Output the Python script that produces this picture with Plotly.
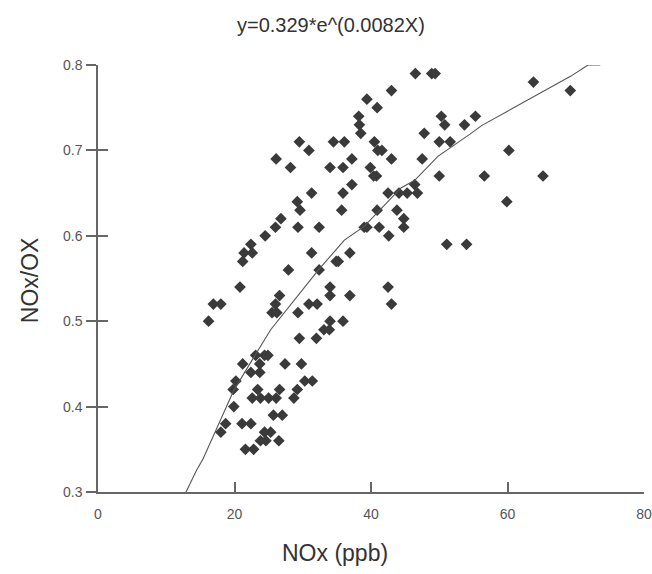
import plotly.graph_objects as go

# scatter observations: NOx (ppb) vs NOx/OX
nox = [63.8, 69.2, 60.2, 56.6, 65.2, 59.9, 46.5, 48.9, 49.4, 50.3,
       55.3, 50.8, 53.7, 47.8, 50.0, 51.6, 47.5, 50.0, 46.4, 45.3,
       46.8, 44.8, 44.8, 51.1, 54.0, 43.0, 39.4, 40.9, 38.2, 38.3,
       38.5, 29.5, 34.5, 36.1, 40.5, 30.9, 41.0, 41.6, 37.2, 43.0,
       28.2, 34.0, 35.9, 39.9, 40.4, 40.8, 37.2, 31.3, 35.9, 42.5,
       44.1, 29.2, 29.6, 35.7, 40.9, 43.8, 26.8, 29.3, 32.4, 39.0,
       39.4, 41.2, 42.6, 31.3, 36.9, 34.9, 35.2, 27.9, 32.4, 34.0,
       34.0, 36.9, 42.5, 43.0, 26.6, 26.0, 25.5, 26.2, 29.3, 30.9,
       32.1, 34.0, 35.9, 33.1, 33.9, 29.5, 32.0, 27.4, 29.8, 30.3,
       31.4, 26.6, 29.2, 26.1, 28.7, 22.4, 21.4, 22.6, 21.2, 20.8,
       16.9, 18.0, 16.2, 23.1, 24.4, 24.9, 21.2, 23.7, 22.4, 23.7,
       20.2, 19.8, 23.4, 22.6, 23.8, 25.0, 19.9, 25.7, 27.0, 18.7,
       21.1, 22.4, 18.0, 24.4, 25.3, 23.8, 24.6, 26.5, 21.6, 22.8,
       26.1, 26.0, 24.5]
ratio = [0.78, 0.77, 0.70, 0.67, 0.67, 0.64, 0.79, 0.79, 0.79, 0.74,
         0.74, 0.73, 0.73, 0.72, 0.71, 0.71, 0.69, 0.67, 0.66, 0.65,
         0.65, 0.62, 0.61, 0.59, 0.59, 0.77, 0.76, 0.75, 0.74, 0.73,
         0.72, 0.71, 0.71, 0.71, 0.71, 0.70, 0.70, 0.70, 0.69, 0.69,
         0.68, 0.68, 0.68, 0.68, 0.67, 0.67, 0.66, 0.65, 0.65, 0.65,
         0.65, 0.64, 0.63, 0.63, 0.63, 0.63, 0.62, 0.61, 0.61, 0.61,
         0.61, 0.61, 0.60, 0.58, 0.58, 0.57, 0.57, 0.56, 0.56, 0.54,
         0.53, 0.53, 0.54, 0.52, 0.53, 0.52, 0.51, 0.51, 0.51, 0.52,
         0.52, 0.50, 0.50, 0.49, 0.49, 0.48, 0.48, 0.45, 0.45, 0.43,
         0.43, 0.42, 0.42, 0.41, 0.41, 0.59, 0.58, 0.58, 0.57, 0.54,
         0.52, 0.52, 0.50, 0.46, 0.46, 0.46, 0.45, 0.45, 0.44, 0.44,
         0.43, 0.42, 0.42, 0.41, 0.41, 0.41, 0.40, 0.39, 0.39, 0.38,
         0.38, 0.38, 0.37, 0.37, 0.37, 0.36, 0.36, 0.36, 0.35, 0.35,
         0.69, 0.61, 0.60]

# fitted curve as drawn (clipped to the axis range)
fit_x = [12.9, 14.4, 15.4, 19.9, 23.3, 25.3, 32.3, 33.6, 36.1, 39.0,
         44.4, 46.4, 49.8, 54.5, 56.2, 69.3, 71.8, 73.6]
fit_y = [0.300, 0.325, 0.339, 0.419, 0.464, 0.490, 0.560, 0.572, 0.595, 0.611,
         0.656, 0.665, 0.693, 0.719, 0.729, 0.787, 0.800, 0.800]

x_ticks = [0, 20, 40, 60, 80]
y_ticks = [0.3, 0.4, 0.5, 0.6, 0.7, 0.8]
y_labels = ["0.3", "0.4", "0.5", "0.6", "0.7", "0.8"]

font = "Liberation Sans, Arial"

fig = go.Figure()
fig.add_trace(go.Scatter(x=nox, y=ratio, mode="markers",
                         marker=dict(symbol="diamond", size=9, color="#3a3a3a"),
                         showlegend=False))
fig.add_trace(go.Scatter(x=fit_x, y=fit_y, mode="lines",
                         line=dict(color="#555555", width=1.1),
                         showlegend=False))
# invisible trace to carry the second (inside-tick) y axis
fig.add_trace(go.Scatter(x=[None], y=[None], yaxis="y2", showlegend=False))

axis_common = dict(showgrid=False, zeroline=False, showline=True,
                   automargin=False,
                   linecolor="#666666", linewidth=1.5,
                   tickcolor="#666666", tickwidth=1.5, ticklen=10,
                   tickfont=dict(family=font, size=14, color="#555555"))

fig.update_layout(
    width=652, height=574,
    margin=dict(l=98, r=8, t=65, b=82),
    plot_bgcolor="white", paper_bgcolor="white",
    font=dict(family=font),
    xaxis=dict(range=[0, 80], tickvals=x_ticks, ticks="inside",
               ticklabelstandoff=8, ticklabeloverflow="allow",
               **axis_common),
    yaxis=dict(range=[0.3, 0.8], tickvals=y_ticks, ticktext=y_labels,
               ticks="outside", ticklabelstandoff=1, **axis_common),
    yaxis2=dict(range=[0.3, 0.8], tickvals=y_ticks, ticks="inside",
                overlaying="y", side="left", showticklabels=False,
                showgrid=False, zeroline=False, showline=False,
                tickcolor="#666666", tickwidth=1.5, ticklen=10),
    annotations=[
        dict(text="y=0.329*e^(0.0082X)", xref="paper", yref="paper",
             x=0.427, y=1.094, xanchor="center", yanchor="middle",
             showarrow=False,
             font=dict(family=font, size=20, color="#333333")),
        dict(text="NOx (ppb)", xref="paper", yref="paper",
             x=0.434, y=-0.143, xanchor="center", yanchor="middle",
             showarrow=False,
             font=dict(family=font, size=23, color="#333333")),
        dict(text="NOx/OX", xref="paper", yref="paper", textangle=-90,
             x=-0.1245, y=0.496, xanchor="center", yanchor="middle",
             showarrow=False,
             font=dict(family=font, size=23, color="#333333")),
    ],
)

# drop the browser's default 8px body margin so the figure fills the window
fig.write_html("out.html",
               config={"displayModeBar": False},
               post_script="document.body.style.margin = '0';")
